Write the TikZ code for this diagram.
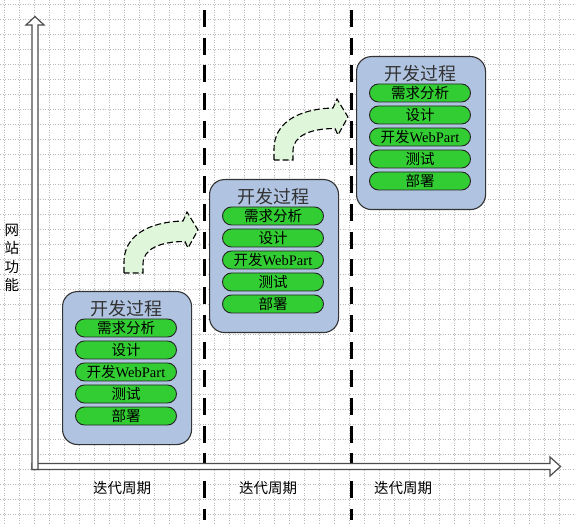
\documentclass[tikz,border=0pt]{standalone}
\usepackage{fontspec}
\setmainfont{Liberation Serif}
\newfontfamily\cjk{Noto Sans CJK SC}
\definecolor{boxblue}{RGB}{176,196,226}
\definecolor{pillgreen}{RGB}{50,205,50}
\definecolor{arrowgreen}{RGB}{224,246,218}
\begin{document}
\begin{tikzpicture}[x=1pt,y=-1pt,
  gridline/.style={gray!55, line width=0.5pt, dash pattern=on 1pt off 1.5pt},
  procbox/.style={draw=black!80, line width=1.1pt, fill=boxblue, rounded corners=15pt, minimum width=129pt, minimum height=153pt, anchor=north west, inner sep=0pt},
  pill/.style={draw=black!85, line width=0.9pt, fill=pillgreen, rounded corners=9pt, minimum width=101pt, minimum height=18pt, inner sep=0pt, font=\fontsize{14.5}{15}\selectfont},
  ptitle/.style={font=\cjk\fontsize{18}{20}\selectfont, inner sep=0pt, text=black!80},
  sepline/.style={line width=3pt, dash pattern=on 17pt off 10.7pt},
  axisarrow/.style={draw=black!70, line width=1.2pt, fill=white},
  bendarrow/.style={draw=black, line width=1.1pt, dash pattern=on 6pt off 3pt, fill=arrowgreen},
  lab/.style={font=\cjk\fontsize{14.5}{16}\selectfont, inner sep=0pt}]

\useasboundingbox (0,0) rectangle (574,524);
\fill[white] (0,0) rectangle (574,524);
\foreach \k in {0,...,37} { \draw[gridline] (4.3+15*\k,0) -- (4.3+15*\k,524); }
\foreach \k in {0,...,34} { \draw[gridline] (0,4.3+15*\k) -- (574,4.3+15*\k); }

% iteration separators
\coordinate (s1t) at (204.5,10); \coordinate (s1b) at (204.5,520);
\coordinate (s2t) at (351.5,10); \coordinate (s2b) at (351.5,520);
\draw[sepline] (s1t) -- (s1b);
\draw[sepline] (s2t) -- (s2b);

% axes (hollow arrows)
\draw[axisarrow] (32,469.5) -- (32,463.5) -- (550,463.5) -- (550,457) -- (560.5,466.5) -- (550,476) -- (550,469.5) -- cycle;
\draw[axisarrow] (32,469.5) -- (32,25) -- (26,25) -- (35,16.5) -- (44,25) -- (38,25) -- (38,469.5) -- cycle;

% axis labels
\node[lab, align=center] (ylab) at (12,258) {网\\[2.5pt]站\\[2.5pt]功\\[2.5pt]能};
\node[lab] (x1) at (122,488) {迭代周期};
\node[lab] (x2) at (268,488) {迭代周期};
\node[lab] (x3) at (403,488) {迭代周期};

% process boxes
\foreach \n/\bx/\by in {1/62/291, 2/209/179, 3/356/56} {
  \node[procbox] (b\n) at (\bx,\by) {};
  \node[ptitle] (t\n) at (\bx+64.5,\by+18) {开发过程};
  \node[pill] (b\n-p1) at (\bx+64,\by+37) {\cjk 需求分析};
  \node[pill] (b\n-p2) at (\bx+64,\by+59) {\cjk 设计};
  \node[pill] (b\n-p3) at (\bx+64,\by+81) {{\cjk 开发}WebPart};
  \node[pill] (b\n-p4) at (\bx+64,\by+103) {\cjk 测试};
  \node[pill] (b\n-p5) at (\bx+64,\by+125) {\cjk 部署};
}

% bent arrows
\foreach \dx/\dy in {0/0, 150/-113} {
  \begin{scope}[shift={(\dx,\dy)}]
    \draw[bendarrow] (124,273) -- (124,262) .. controls (124,236) and (148,222) .. (183,221)
      -- (187,212) -- (198,230) -- (188,248) -- (185,241.5)
      .. controls (160,241.5) and (143,249) .. (143,264) -- (143,273) -- cycle;
  \end{scope}
}
\end{tikzpicture}
\end{document}
